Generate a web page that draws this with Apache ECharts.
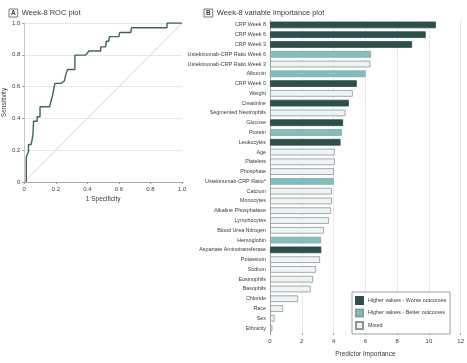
<!DOCTYPE html>
<html>
<head>
<meta charset="utf-8">
<script src="https://cdn.jsdelivr.net/npm/echarts@6/dist/echarts.min.js"></script>
<style>
  html, body { margin: 0; padding: 0; background: #fff; }
  #chart { width: 467px; height: 363px; }
</style>
</head>
<body>
<div id="chart"></div>
<script>
// ROC curve vertices: [1 - specificity, sensitivity]
const rocPoints = [
  [0.013, 0], [0.013, 0.158], [0.027, 0.19], [0.027, 0.236], [0.044, 0.236],
  [0.055, 0.294], [0.059, 0.382], [0.082, 0.382], [0.082, 0.41], [0.10, 0.41],
  [0.10, 0.473], [0.16, 0.473], [0.18, 0.546], [0.19, 0.60], [0.195, 0.62],
  [0.233, 0.62], [0.254, 0.635], [0.265, 0.683], [0.275, 0.708], [0.321, 0.708],
  [0.321, 0.798], [0.39, 0.798], [0.41, 0.824], [0.485, 0.824], [0.485, 0.85],
  [0.516, 0.85], [0.52, 0.885], [0.535, 0.885], [0.54, 0.914], [0.60, 0.914],
  [0.605, 0.94], [0.675, 0.94], [0.68, 0.97], [0.905, 0.97], [0.905, 1.0], [1.0, 1.0]
];
const diagonal = [[0, 0], [1, 1]];

// Variable importance
const variables = [
  'CRP Week 8', 'CRP Week 6', 'CRP Week 3', 'Ustekinumab-CRP Ratio Week 6',
  'Ustekinumab-CRP Ratio Week 3', 'Albumin', 'CRP Week 0', 'Weight', 'Creatinine',
  'Segmented Neutrophils', 'Glucose', 'Protein', 'Leukocytes', 'Age', 'Platelets',
  'Phosphate', 'Ustekinumab-CRP Ratio', 'Calcium', 'Monocytes', 'Alkaline Phosphatase',
  'Lymphocytes', 'Blood Urea Nitrogen', 'Hemoglobin', 'Aspartate Aminotransferase',
  'Potassium', 'Sodium', 'Eosinophils', 'Basophils', 'Chloride', 'Race', 'Sex', 'Ethnicity'
];
const importance = [
  10.44, 9.8, 8.94, 6.36, 6.32, 6.02, 5.46, 5.21, 4.96, 4.75,
  4.6, 4.52, 4.44, 4.08, 4.08, 4.02, 4.02, 3.9, 3.9, 3.84,
  3.71, 3.4, 3.21, 3.23, 3.15, 2.9, 2.71, 2.56, 1.77, 0.83, 0.29, 0.15
];
// w = higher values worse, b = higher values better, m = mixed
const effect = [
  'w', 'w', 'w', 'b', 'm', 'b', 'w', 'm', 'w', 'm',
  'w', 'b', 'w', 'm', 'm', 'm', 'b', 'm', 'm', 'm',
  'm', 'm', 'b', 'w', 'm', 'm', 'm', 'm', 'm', 'm', 'm', 'm'
];
const groups = [
  { key: 'w', name: 'Higher values - Worse outcomes', color: '#2c4f4b', border: '#2c4f4b' },
  { key: 'b', name: 'Higher values - Better outcomes', color: '#7fc0bf', border: '#8a9f9e' },
  { key: 'm', name: 'Mixed', color: '#ebf5f5', border: '#8f9696' }
];

const FONT = '"Liberation Sans Narrow", "Liberation Sans", sans-serif';
const TXT = '#3a3a3a';

const chart = echarts.init(document.getElementById('chart'));

const barSeries = groups.map(g => ({
  type: 'bar',
  name: g.name,
  xAxisIndex: 1,
  yAxisIndex: 1,
  stack: 'imp',
  barCategoryGap: '32%',
  itemStyle: { color: g.color, borderColor: g.border, borderWidth: 0.8 },
  emphasis: { disabled: true },
  data: importance.map((v, i) => effect[i] === g.key ? v : '-')
}));

const titleStyle = {
  fontFamily: FONT, fontSize: 7.5, fontWeight: 'normal', color: TXT,
  rich: { box: { fontFamily: FONT, fontSize: 6.5, fontWeight: 'bold', color: TXT, borderColor: '#555', borderWidth: 0.8, padding: [1, 2, 0, 2] } }
};

chart.setOption({
  animation: false,
  textStyle: { fontFamily: FONT },
  title: [
    { left: 4, top: 4, text: '{box|A}  Week-8 ROC plot', textStyle: titleStyle },
    { left: 199, top: 4, text: '{box|B}  Week-8 variable importance plot', textStyle: titleStyle }
  ],
  grid: [
    { left: 23, top: 23, width: 159, height: 159 },
    { left: 270, top: 20, width: 192, height: 315 }
  ],
  legend: {
    data: groups.map(g => g.name),
    orient: 'vertical',
    left: 352, top: 292,
    icon: 'rect',
    itemWidth: 7, itemHeight: 7, itemGap: 3.5,
    padding: [4, 4, 4, 3],
    borderColor: '#888', borderWidth: 0.8,
    backgroundColor: '#fff',
    selectedMode: false,
    textStyle: { fontFamily: FONT, fontSize: 5.4, color: TXT }
  },
  xAxis: [
    {
      gridIndex: 0, type: 'value', min: 0, max: 1, interval: 0.2,
      name: '1 Specificity', nameLocation: 'middle', nameGap: 14,
      nameTextStyle: { fontFamily: FONT, fontSize: 6.5, color: TXT },
      axisLine: { lineStyle: { color: '#999', width: 0.8 } },
      axisTick: { show: true, length: 2, lineStyle: { color: '#999' } },
      axisLabel: { fontSize: 6, color: TXT, margin: 4, formatter: v => v === 0 ? '0' : v.toFixed(1) },
      splitLine: { show: false }
    },
    {
      gridIndex: 1, type: 'value', min: 0, max: 12, interval: 2,
      name: 'Predictor Importance', nameLocation: 'middle', nameGap: 18,
      nameTextStyle: { fontFamily: FONT, fontSize: 6.5, color: TXT },
      axisLine: { lineStyle: { color: '#999', width: 0.8 } },
      axisTick: { show: true, length: 2, lineStyle: { color: '#999' } },
      axisLabel: { fontSize: 6, color: TXT, margin: 5 },
      splitLine: { show: true, lineStyle: { color: '#e2e2e2', width: 0.8 } }
    }
  ],
  yAxis: [
    {
      gridIndex: 0, type: 'value', min: 0, max: 1, interval: 0.2,
      name: 'Sensitivity', nameLocation: 'middle', nameGap: 15,
      nameTextStyle: { fontFamily: FONT, fontSize: 6.5, color: TXT },
      axisLine: { show: true, lineStyle: { color: '#bbb', width: 0.8 } },
      axisTick: { show: true, length: 2, lineStyle: { color: '#999' } },
      axisLabel: { fontSize: 6, color: TXT, margin: 4, formatter: v => v === 0 ? '0' : v.toFixed(1) },
      splitLine: { show: true, lineStyle: { color: '#e2e2e2', width: 0.8 } }
    },
    {
      gridIndex: 1, type: 'category', data: variables, inverse: true,
      axisLine: { show: true, lineStyle: { color: '#999', width: 0.8 } },
      axisTick: { show: false },
      axisLabel: {
        fontSize: 5.4, color: TXT, margin: 4, interval: 0,
        formatter: v => v === 'Ustekinumab-CRP Ratio' ? v + '{sup|a}' : v,
        rich: { sup: { fontSize: 4, verticalAlign: 'top', color: TXT, padding: [0, 0, 3, 0] } }
      }
    }
  ],
  series: [
    {
      type: 'line', xAxisIndex: 0, yAxisIndex: 0, data: diagonal,
      symbol: 'none', silent: true,
      lineStyle: { color: '#c9c9c9', width: 0.8 }
    },
    {
      type: 'line', xAxisIndex: 0, yAxisIndex: 0, data: rocPoints,
      symbol: 'none', silent: true,
      lineStyle: { color: '#3f6360', width: 1.4 }
    },
    ...barSeries
  ]
});
</script>
</body>
</html>
